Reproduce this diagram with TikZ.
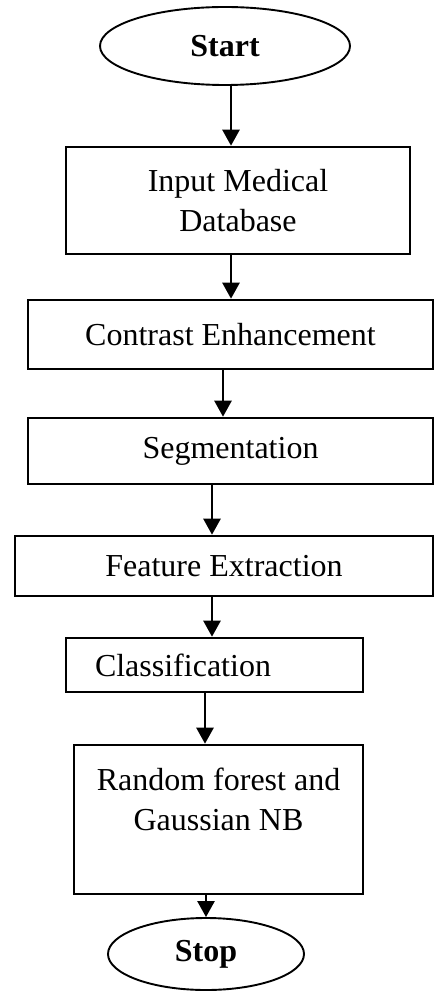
\documentclass[tikz,border=0pt]{standalone}
\usepackage{fontspec}
\setmainfont{Liberation Serif}
\usetikzlibrary{shapes.geometric,arrows.meta}
\begin{document}
\begin{tikzpicture}[x=1pt,y=-1pt,line width=2.6pt,>={Triangle[length=16pt,width=17pt]},
  font=\fontsize{32}{40}\selectfont,
  term/.style={ellipse,draw,line width=1.9pt,inner sep=0pt,font=\fontsize{32}{40}\selectfont\bfseries},
  box/.style={rectangle,draw,inner sep=0pt,align=center}]
  \useasboundingbox (0,0) rectangle (435,992);
  \node[term,minimum width=250pt,minimum height=78pt] (start) at (225,46) {Start};
  \node[box,minimum width=344pt,minimum height=107pt] (input) at (238,200.5) {Input Medical\\Database};
  \node[box,minimum width=405pt,minimum height=69pt] (contrast) at (230.5,334.5) {Contrast Enhancement};
  \node[box,minimum width=405pt,minimum height=66pt] (seg) at (230.5,451) {Segmentation};
  \node[box,minimum width=418pt,minimum height=60pt] (feat) at (224,566) {Feature Extraction};
  \node[box,minimum height=54pt,inner xsep=29pt,text width=239pt,align=left] (class) at (214.5,665) {Classification};
  \node[box,minimum width=289pt,minimum height=149pt] (rf) at (218.5,819.5) {Random forest and\\Gaussian NB\\~};
  \node[term,minimum width=196pt,minimum height=72pt] (stop) at (206,954) {Stop};
  % connectors
  \draw[->] ([xshift=6pt]start.south) -- ([xshift=6pt]start.south |- input.north);
  \draw[->] ([xshift=-7pt]input.south) -- ([xshift=-7pt]input.south |- contrast.north);
  \draw[->] ([xshift=-7.5pt]contrast.south) -- ([xshift=-7.5pt]contrast.south |- seg.north);
  \draw[->] ([xshift=-18.5pt]seg.south) -- ([xshift=-18.5pt]seg.south |- feat.north);
  \draw[->] ([xshift=-12pt]feat.south) -- ([xshift=-12pt]feat.south |- class.north);
  \draw[->] ([xshift=-9.5pt]class.south) -- ([xshift=-9.5pt]class.south |- rf.north);
  \draw[->] (rf.south -| stop.north) -- (stop.north);
\end{tikzpicture}
\end{document}
